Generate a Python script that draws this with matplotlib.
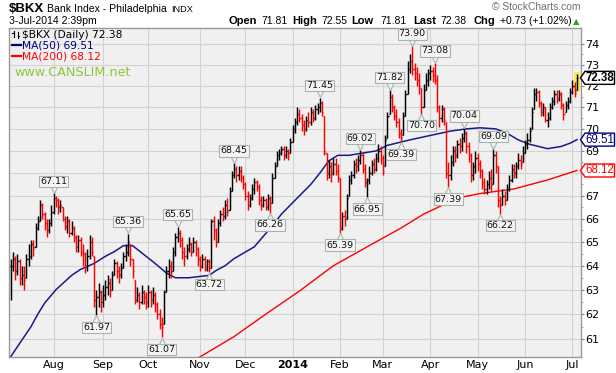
import numpy as np
import pandas as pd
import matplotlib
matplotlib.use('Agg')
import matplotlib.pyplot as plt
from matplotlib.ticker import FixedLocator, NullFormatter, FuncFormatter
from matplotlib.patches import Rectangle, Polygon
from matplotlib.lines import Line2D
import matplotlib.transforms as mtransforms

W, H = 616, 373

# ---------------- data ----------------
holidays = ['2013-07-04', '2013-09-02', '2013-11-28', '2013-12-25', '2014-01-01',
            '2014-01-20', '2014-02-17', '2014-04-18', '2014-05-26']
dates = pd.bdate_range('2013-07-05', '2014-07-03')
dates = dates[~dates.isin(pd.to_datetime(holidays))]

high = [
    64.3, 64.6, 64.4, 64.5, 64.3, 64.0, 64.0, 64.5, 64.9, 65.1, 65.1, 65.8, 66.1, 66.8, 66.7, 66.3, 66.0, 66.0, 66.6,
    67.11, 67.0, 66.9, 66.8, 66.5, 66.1, 66.1, 66.0, 65.9, 65.7, 65.3, 65.3, 65.2, 64.9, 64.6, 64.7, 65.3, 65.2, 64.4, 63.0, 63.3, 63.0,
    63.2, 63.4, 63.6, 63.5, 63.8, 64.3, 64.2, 64.0, 64.1, 64.6, 64.9, 65.36, 64.9, 64.3, 63.4, 63.1, 62.9, 63.2, 63.0, 62.9,
    63.2, 63.0, 63.1, 62.9, 62.5, 62.2, 61.9, 63.0, 64.0, 64.3, 64.2, 64.8, 65.4, 65.65, 65.5, 65.2, 64.8, 64.9, 65.2, 65.0, 65.2, 65.1, 64.8,
    64.4, 64.5, 64.4, 64.3, 64.3, 66.0, 66.1, 65.6, 66.0, 66.4, 66.5, 66.8, 66.9, 67.4, 68.1, 68.45, 68.3, 68.3, 68.3, 67.9,
    67.6, 67.2, 67.1, 67.5, 67.8, 67.7, 67.5, 67.0, 67.0, 66.9, 67.1, 67.0, 68.0, 68.5, 69.0, 69.1, 69.2, 69.2, 69.2, 69.1, 69.6,
    70.2, 70.5, 71.0, 70.9, 70.7, 70.4, 70.6, 70.8, 71.0, 70.9, 71.1, 71.2, 71.45, 71.3, 70.6, 68.9, 68.6, 68.5, 68.7, 68.7, 68.4,
    67.8, 66.3, 66.4, 67.1, 67.9, 68.1, 68.6, 68.7, 68.8, 69.02, 68.9, 68.4, 67.8, 68.3, 68.6, 68.7, 68.9, 69.3, 69.2,
    68.8, 69.7, 70.8, 71.82, 71.6, 71.1, 70.9, 70.5, 70.0, 70.8, 71.8, 73.2, 73.5, 73.90, 73.1, 72.9, 72.6, 71.9, 72.1, 72.6, 72.8,
    73.0, 72.9, 73.08, 72.5, 71.1, 71.1, 71.0, 70.3, 68.5, 68.8, 69.2, 69.2, 69.5, 69.6, 69.8, 70.04, 69.9, 69.4, 68.9, 68.5, 69.0,
    68.9, 68.6, 68.2, 67.8, 67.7, 68.1, 68.2, 69.09, 69.0, 68.3, 67.0, 67.3, 67.2, 67.5, 67.9, 68.4, 68.4, 68.5, 68.9, 68.8, 69.2,
    69.5, 69.8, 70.1, 71.0, 71.9, 71.9, 71.8, 71.3, 71.2, 71.0, 70.8, 71.2, 71.5, 71.8, 71.8, 71.8, 71.7, 71.2, 71.3, 71.5, 71.9,
    72.3, 72.2, 72.55,
]
low = [
    62.6, 63.8, 63.4, 63.6, 63.2, 63.2, 63.0, 63.5, 64.0, 64.3, 64.4, 64.8, 65.5, 65.9, 66.0, 65.5, 65.2, 65.4, 65.7,
    66.2, 66.5, 66.2, 66.3, 65.9, 65.5, 65.4, 65.2, 65.3, 65.0, 64.6, 64.6, 64.4, 64.0, 63.7, 63.8, 64.3, 64.4, 62.3, 61.97, 62.3, 62.1,
    62.3, 62.6, 62.8, 62.7, 63.0, 63.6, 63.5, 63.3, 63.5, 63.9, 64.2, 64.4, 64.0, 63.5, 62.4, 62.5, 62.2, 62.4, 62.4, 62.2,
    62.3, 62.3, 62.4, 62.1, 61.8, 61.4, 61.07, 61.6, 62.9, 63.5, 63.5, 63.8, 64.4, 65.0, 64.8, 64.3, 64.0, 64.3, 64.6, 64.4, 64.6, 64.4, 64.0,
    63.8, 63.9, 63.8, 63.8, 63.72, 63.9, 65.1, 64.8, 65.0, 65.7, 65.9, 66.0, 66.1, 66.4, 67.2, 67.8, 67.6, 67.7, 67.6, 67.3,
    66.8, 66.4, 66.5, 66.8, 67.1, 67.2, 66.6, 66.4, 66.5, 66.4, 66.4, 66.26, 66.7, 67.8, 68.3, 68.6, 68.8, 68.6, 68.7, 68.6, 68.9,
    69.4, 69.8, 70.2, 70.3, 69.9, 69.7, 69.9, 70.1, 70.2, 70.3, 70.4, 70.7, 70.8, 70.6, 68.8, 67.7, 67.8, 67.6, 67.9, 67.9, 67.6,
    65.39, 65.5, 65.7, 66.0, 67.0, 67.5, 67.8, 68.0, 68.1, 68.4, 68.0, 67.4, 66.95, 67.5, 67.9, 68.0, 68.1, 68.5, 68.4,
    67.9, 68.3, 69.6, 70.7, 70.8, 70.4, 70.1, 69.6, 69.39, 69.7, 70.6, 71.6, 72.6, 72.5, 72.3, 72.0, 71.6, 70.70, 71.0, 71.8, 72.0,
    72.3, 72.2, 72.1, 70.8, 70.1, 70.3, 70.2, 67.8, 67.39, 67.7, 68.3, 68.5, 68.7, 68.9, 69.0, 69.4, 68.9, 68.5, 67.6, 67.7, 68.0,
    68.1, 67.8, 67.3, 67.1, 67.1, 67.3, 67.2, 67.5, 68.0, 66.5, 66.22, 66.6, 66.6, 66.8, 67.2, 67.6, 67.8, 67.8, 68.2, 68.2, 68.5,
    68.9, 69.1, 69.4, 70.0, 70.9, 71.3, 71.0, 70.6, 70.6, 70.3, 70.1, 70.4, 70.9, 71.1, 71.2, 71.3, 70.9, 70.4, 70.8, 70.9, 71.2,
    71.6, 71.5, 71.81,
]
close = [
    64.0, 64.3, 63.8, 64.2, 63.5, 63.6, 63.4, 64.3, 64.4, 64.9, 64.7, 65.6, 65.9, 66.6, 66.2, 65.8, 65.5, 65.8, 66.3,
    66.9, 66.8, 66.5, 66.6, 66.0, 65.7, 65.9, 65.4, 65.6, 65.2, 64.8, 65.1, 64.6, 64.5, 64.0, 64.4, 65.0, 64.6, 62.6, 62.7, 62.9, 62.5,
    62.8, 63.1, 63.3, 63.0, 63.6, 64.1, 63.8, 63.6, 63.9, 64.4, 64.6, 65.0, 64.3, 63.8, 62.6, 62.8, 62.5, 62.9, 62.7, 62.5,
    62.9, 62.6, 62.8, 62.4, 62.0, 61.6, 61.5, 62.9, 63.8, 64.0, 63.8, 64.6, 65.2, 65.4, 65.1, 64.6, 64.4, 64.7, 64.9, 64.6, 65.0, 64.7, 64.3,
    64.0, 64.3, 63.9, 64.2, 63.9, 65.9, 65.5, 65.0, 65.8, 66.2, 66.1, 66.6, 66.3, 67.2, 67.9, 68.2, 67.9, 68.1, 67.8, 67.5,
    67.0, 66.6, 66.9, 67.3, 67.6, 67.4, 66.8, 66.6, 66.8, 66.5, 66.9, 66.7, 67.8, 68.3, 68.8, 68.9, 69.1, 68.8, 69.0, 68.9, 69.4,
    70.0, 70.3, 70.7, 70.5, 70.2, 70.0, 70.4, 70.3, 70.8, 70.5, 70.9, 71.0, 71.2, 70.8, 69.0, 68.0, 68.3, 68.0, 68.4, 68.1, 67.8,
    65.6, 66.1, 66.0, 66.9, 67.7, 67.9, 68.4, 68.3, 68.6, 68.8, 68.2, 67.6, 67.7, 68.0, 68.4, 68.2, 68.7, 69.0, 68.7,
    68.1, 69.5, 70.6, 71.5, 71.0, 70.6, 70.3, 69.8, 69.6, 70.6, 71.6, 72.8, 73.2, 72.8, 72.6, 72.3, 72.0, 71.0, 71.8, 72.3, 72.6,
    72.7, 72.5, 72.3, 71.0, 70.5, 70.9, 70.4, 68.0, 67.9, 68.5, 69.0, 68.8, 69.3, 69.2, 69.6, 69.8, 69.2, 68.8, 67.9, 68.3, 68.7,
    68.4, 68.1, 67.6, 67.3, 67.5, 67.8, 67.5, 68.8, 68.3, 66.8, 66.6, 67.0, 66.8, 67.3, 67.7, 68.2, 68.0, 68.3, 68.6, 68.4, 68.9,
    69.3, 69.5, 69.9, 70.8, 71.6, 71.7, 71.2, 70.8, 71.0, 70.4, 70.5, 71.0, 71.3, 71.6, 71.4, 71.6, 71.1, 70.7, 71.1, 71.3, 71.7,
    72.0, 71.65, 72.38,
]
last_open = 71.81

# moving averages (trading-day index, value)
ma50_day = [0, 3, 6, 9, 12, 15, 20, 27, 31, 37, 42, 46, 50, 54, 58, 64, 69, 73, 79, 88,
            91, 95, 99, 108, 116, 120, 125, 129, 133, 137, 141, 145, 150, 156, 162, 167,
            177, 186, 195, 202, 208, 215, 220, 225, 230, 238, 244, 248, 251]
ma50_val = [60.3, 60.7, 61.1, 61.5, 62.0, 62.45, 63.0, 63.6, 63.85, 64.1, 64.4, 64.6, 64.85,
            64.85, 64.55, 64.1, 63.7, 63.5, 63.5, 63.6, 63.8, 64.0, 64.3, 64.8, 65.7, 66.2,
            66.7, 67.1, 67.5, 68.0, 68.55, 68.8, 68.8, 68.9, 69.0, 69.25, 69.5, 69.7, 69.9,
            70.0, 70.05, 70.0, 69.8, 69.5, 69.3, 69.1, 69.2, 69.35, 69.51]
ma200_day = [80, 84, 99, 113, 128, 143, 158, 173, 183, 198, 208, 223, 238, 251]
ma200_val = [60.1, 60.3, 61.1, 62.0, 62.95, 64.0, 64.8, 65.6, 66.2, 66.9, 67.1, 67.3, 67.7, 68.12]

# annotated swing highs / lows
ann_day = [19, 38, 52, 67, 74, 88, 99, 115, 137, 146, 155, 158, 168, 173, 178, 182, 188, 194, 201, 214, 217]
ann_kind = ['H', 'L', 'H', 'L', 'H', 'L', 'H', 'L', 'H', 'L', 'H', 'L', 'H', 'L', 'H', 'L', 'H', 'L', 'H', 'H', 'L']

yticks = list(range(61, 75))

assert len(dates) == len(high) == len(low) == len(close)
assert len(ma50_day) == len(ma50_val) and len(ma200_day) == len(ma200_val)

# ---------------- figure ----------------
high = np.array(high); low = np.array(low); close = np.array(close)
n = len(close)
x = np.arange(n)
prev = np.r_[close[0], close[:-1]]
opens = np.clip(prev, low, high)
opens[-1] = last_open
cols = np.where(close < prev, '#ff0000', '#000000')

fig = plt.figure(figsize=(W / 100, H / 100), dpi=100)
fig.patch.set_facecolor('white')


def fx(px):
    return px / W


def fy(py):
    return 1 - py / H


ax = fig.add_axes([fx(9), fy(357), (581 - 9) / W, (357 - 28) / H])
ax.set_facecolor('#f0f0f0')
ax.set_yscale('log')
ax.set_ylim(60.29, 74.78)
ax.set_xlim(-0.75, 252.8)

ax.yaxis.set_major_locator(FixedLocator(yticks))
ax.yaxis.set_major_formatter(FuncFormatter(lambda v, p: f'{v:.0f}'))
ax.yaxis.set_minor_locator(FixedLocator([v + 0.5 for v in yticks[:-1]]))
ax.yaxis.set_minor_formatter(NullFormatter())
ax.yaxis.tick_right()
ax.tick_params(axis='y', which='major', length=2.5, width=0.8, color='#808080',
               labelsize=8, pad=0.8, labelcolor='#000000')
ax.tick_params(axis='y', which='minor', length=1.5, width=0.6, color='#909090')

month_pos, month_lab = [], []
for i in range(1, n):
    if dates[i].month != dates[i - 1].month:
        month_pos.append(i)
        month_lab.append('2014' if dates[i].month == 1 else dates[i].strftime('%b'))
ax.set_xticks(month_pos)
ax.set_xticklabels(month_lab, fontsize=8)
for lab in ax.get_xticklabels():
    if lab.get_text() == '2014':
        lab.set_fontweight('bold')
ax.tick_params(axis='x', length=0, pad=2.5)

ax.grid(True, which='major', color='#d2d2d2', lw=0.8)
ax.set_axisbelow(True)
for s in ax.spines.values():
    s.set_color('#9a9a9a')
    s.set_linewidth(1.0)

# yellow highlight for last bar
ax.add_patch(Rectangle((n - 1 - 1.4, low[-1] - 0.12), 2.6, high[-1] - low[-1] + 0.25,
                       facecolor='#f5ec50', edgecolor='none', zorder=1.5))

# OHLC bars
ax.vlines(x, low, high, colors=cols, lw=1.05, zorder=3)
ax.hlines(opens, x - 0.5, x, colors=cols, lw=1.0, zorder=3)
ax.hlines(close, x, x + 0.5, colors=cols, lw=1.0, zorder=3)

# moving averages
ax.plot(ma50_day, ma50_val, color='#1a1a8c', lw=1.1, zorder=2.5)
ax.plot(ma200_day, ma200_val, color='#ff0000', lw=1.0, zorder=2.5)

# swing labels
box_fc = '#f4f4f4'
box_ec = '#a8b4a8'
for d, k in zip(ann_day, ann_kind):
    v = high[d] if k == 'H' else low[d]
    sgn = 1 if k == 'H' else -1
    off = mtransforms.ScaledTranslation(0, sgn * 3.0 / 72, fig.dpi_scale_trans)
    ax.plot([d], [v], marker='v' if k == 'H' else '^', ms=6, mfc=box_fc, mec=box_ec,
            mew=0.8, transform=ax.transData + off, zorder=6, clip_on=False)
    ax.annotate(f'{v:.2f}', xy=(d, v), xytext=(0, sgn * 5.5), textcoords='offset points',
                ha='center', va='bottom' if k == 'H' else 'top', fontsize=6.8,
                family='DejaVu Sans', color='#111111', zorder=7,
                bbox=dict(boxstyle='square,pad=0.12', fc=box_fc, ec=box_ec, lw=0.8))

# right side value tags (pentagon pointing at the axis)
tags = [(close[-1], '#000000', 'bold'), (ma50_val[-1], '#000080', 'normal'),
        (ma200_val[-1], '#ff0000', 'normal')]
for val, c, w in tags:
    ypix = ax.transData.transform((0, val))[1]
    verts = [(580.5, ypix), (585, ypix + 6.5), (614.5, ypix + 6.5), (614.5, ypix - 6.5),
             (585, ypix - 6.5)]
    fig.add_artist(Polygon(verts, closed=True, fc='white', ec=c, lw=1.0,
                           transform=mtransforms.IdentityTransform(), zorder=10))
    fig.text(fx(599.8), ypix / H, f'{val:.2f}', ha='center', va='center', fontsize=8.3,
             fontweight=w, color=c, family='Liberation Sans', zorder=11)

# ---------------- header ----------------
fig.text(fx(9), fy(11.5), '$BKX', fontsize=9.5, fontweight='bold', family='Liberation Sans',
         va='baseline')
fig.text(fx(47), fy(11.5), 'Bank Index - Philadelphia', fontsize=7.6, family='Liberation Sans',
         va='baseline')
fig.text(fx(171), fy(11.5), 'INDX', fontsize=6.6, family='Liberation Sans', va='baseline')
fig.text(fx(9), fy(24.5), '3-Jul-2014 2:39pm', fontsize=7.6, family='Liberation Sans',
         va='baseline')
fig.text(fx(581), fy(10.5), '\u00a9 StockCharts.com', fontsize=7.4, family='Liberation Sans',
         color='#707070', va='baseline', ha='right')

chg = close[-1] - close[-2]
pieces = [('Open', 228.7, True), (f'{last_open:.2f}', 261, False),
          ('High', 292.5, True), (f'{high[-1]:.2f}', 321, False),
          ('Low', 351.7, True), (f'{low[-1]:.2f}', 380.5, False),
          ('Last', 413, True), (f'{close[-1]:.2f}', 440.5, False),
          ('Chg', 474, True), (f'{chg:+.2f} ({chg / close[-2] * 100:+.2f}%)', 499.5, False)]
for t, px, b in pieces:
    fig.text(fx(px), fy(24.5), t, fontsize=8 if b else 7.5,
             fontweight='bold' if b else 'normal', family='Liberation Sans', va='baseline')
fig.text(fx(573), fy(24.5), '\u25b2', fontsize=6, color='#22aa22', family='DejaVu Sans',
         va='baseline')

# in-chart legend
fig.add_artist(Line2D([fx(13.5), fx(13.5)], [fy(31), fy(37)], color='black', lw=0.8))
fig.add_artist(Line2D([fx(12), fx(13.5)], [fy(33), fy(33)], color='black', lw=0.8))
fig.add_artist(Line2D([fx(17.5), fx(17.5)], [fy(32), fy(38)], color='black', lw=0.8))
fig.add_artist(Line2D([fx(17.5), fx(19)], [fy(36), fy(36)], color='black', lw=0.8))
fig.text(fx(21.5), fy(37.5), f'$BKX (Daily) {close[-1]:.2f}', fontsize=7.7,
         family='DejaVu Sans', va='baseline')
fig.add_artist(Line2D([fx(12), fx(20.5)], [fy(44.5), fy(44.5)], color='#000080', lw=1.6))
fig.text(fx(21.5), fy(48.5), f'MA(50) {ma50_val[-1]:.2f}', fontsize=7.7, color='#000080',
         family='DejaVu Sans', va='baseline')
fig.add_artist(Line2D([fx(12), fx(20.5)], [fy(55.5), fy(55.5)], color='#ff0000', lw=1.6))
fig.text(fx(21.5), fy(59.5), f'MA(200) {ma200_val[-1]:.2f}', fontsize=7.7, color='#ff0000',
         family='DejaVu Sans', va='baseline')
fig.text(fx(14), fy(75.5), 'www.CANSLIM.net', fontsize=9.2, color='#8cc63e',
         family='DejaVu Sans', va='baseline')

fig.savefig('out.png', dpi=100, facecolor='white')
